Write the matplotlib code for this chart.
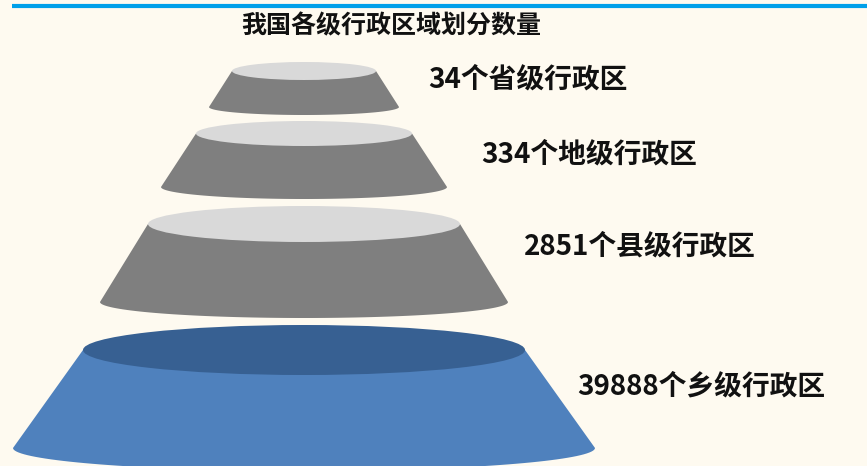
import numpy as np
import matplotlib.pyplot as plt
from matplotlib.patches import Ellipse, Polygon

plt.rcParams["font.family"] = ["Noto Sans CJK SC", "DejaVu Sans"]

# data
TITLE = "我国各级行政区域划分数量"
levels = ["省级", "地级", "县级", "乡级"]
counts = [34, 334, 2851, 39888]

# layout of each frustum, in pixels (y down)
CX = 304
top_hw = [72, 108, 156, 221]
top_y = [71, 133.5, 224, 350]
top_hh = [9, 12.5, 18, 25]
bot_hw = [95, 143, 204, 291]
bot_y = [107, 187, 302, 448]
bot_hh = [8, 12, 16, 23]
label_x = [428, 481, 524, 577]
label_y = [80, 155, 247, 387]

SIDE = ["#7f7f7f", "#7f7f7f", "#7f7f7f", "#4f81bd"]
TOP = ["#d9d9d9", "#d9d9d9", "#d9d9d9", "#376092"]
BG = "#fefaf0"

W, H = 867, 466
fig = plt.figure(figsize=(W / 100, H / 100), dpi=100, facecolor=BG)
ax = fig.add_axes([0, 0, 1, 1])
ax.set_facecolor(BG)
ax.set_xlim(0, W)
ax.set_ylim(H, 0)
ax.axis("off")

# blue rule at the top
ax.plot([12, W], [6, 6], color="#00a0e9", linewidth=3, solid_capstyle="butt")

for i in range(len(counts)):
    t = np.linspace(0, np.pi, 80)
    arc_x = CX + bot_hw[i] * np.cos(t)
    arc_y = bot_y[i] + bot_hh[i] * np.sin(t)
    pts = [(CX - top_hw[i], top_y[i]), (CX + top_hw[i], top_y[i])]
    pts += list(zip(arc_x, arc_y))
    ax.add_patch(Polygon(pts, closed=True, facecolor=SIDE[i], edgecolor="none"))
    ax.add_patch(Ellipse((CX, top_y[i]), 2 * top_hw[i], 2 * top_hh[i],
                         facecolor=TOP[i], edgecolor="none"))
    ax.text(label_x[i], label_y[i], f"{counts[i]}个{levels[i]}行政区",
            fontsize=20, fontweight="bold", color="#111111",
            ha="left", va="center")

ax.text(391, 26, TITLE, fontsize=18, fontweight="bold", color="#111111",
        ha="center", va="center")

fig.savefig("out.png", dpi=100, facecolor=BG)
